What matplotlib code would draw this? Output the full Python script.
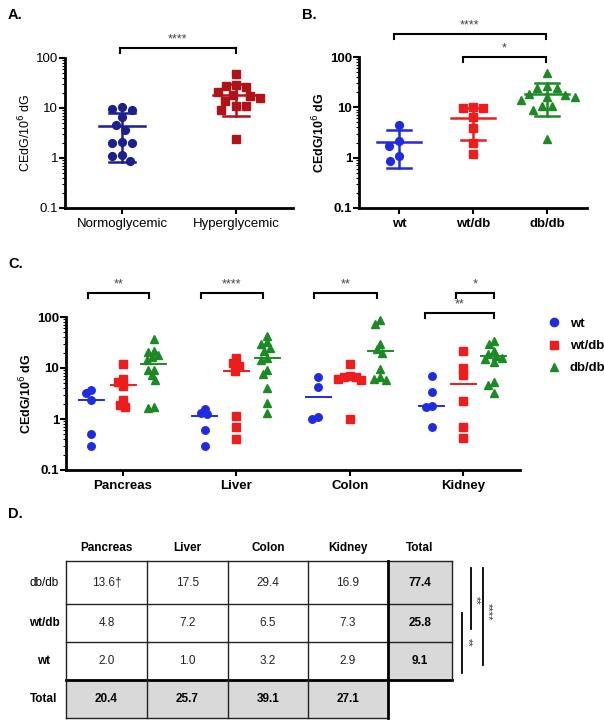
import numpy as np
import matplotlib
matplotlib.use("Agg")
import matplotlib.pyplot as plt
from matplotlib.transforms import blended_transform_factory
from matplotlib.ticker import LogLocator, FixedFormatter, FixedLocator

plt.rcParams['font.family'] = ['Liberation Sans', 'DejaVu Sans']

# ---------------- data ----------------
# Panel A
a_groups = ["Normoglycemic", "Hyperglycemic"]
a_normo = [9.3, 10.5, 9.5, 6.5, 3.7, 4.5, 2.0, 2.1, 2.0, 1.15, 1.1, 0.87]
a_hyper = [47, 28, 29, 26, 21, 18.6, 17, 15.5, 14, 11, 11, 9.1, 2.4]
a_mean = [4.4, 18.6]
a_upper = [8.0, 30.9]
a_lower = [0.82, 6.9]

# Panel B
b_groups = ["wt", "wt/db", "db/db"]
b_wt = [4.5, 2.1, 1.74, 1.1, 0.87]
b_wtdb = [9.5, 10.3, 9.6, 6.4, 3.9, 2.0, 1.19]
b_dbdb = [48, 27, 24, 24, 18, 17.5, 16, 16, 14, 10.7, 10.7, 8.7, 2.3]
b_mean = [2.03, 6.1, 18.3]
b_upper = [3.57, 9.9, 31.0]
b_lower = [0.635, 2.26, 6.8]

# Panel C
organs = ["Pancreas", "Liver", "Colon", "Kidney"]
genotypes = ["wt", "wt/db", "db/db"]
c_wt = [[3.7, 3.2, 2.4, 0.50, 0.30],
        [1.6, 1.25, 1.3, 0.6, 0.3],
        [6.7, 4.3, 1.1, 1.0],
        [6.9, 3.4, 1.8, 1.75, 0.70]]
c_wtdb = [[11.9, 6.2, 5.3, 4.5, 2.4, 1.9, 1.7],
          [16, 12.6, 10.9, 8.8, 1.16, 0.7, 0.4],
          [12.2, 7.0, 6.7, 6.6, 6.2, 5.8, 1.0],
          [22, 10.2, 7.2, 2.3, 0.70, 0.42]]
c_dbdb = [[37.7, 22, 20.6, 17.8, 16.5, 14.2, 9.3, 9.0, 7.2, 5.75, 1.66, 1.7],
          [42, 32, 29, 25, 22, 15.5, 14.5, 9, 7.5, 4, 2.1, 1.3],
          [86, 74, 30, 24, 20, 9.5, 6.7, 6.2, 5.9],
          [34, 29, 22, 19, 17, 16, 15, 13, 5.3, 4.6, 3.3]]
c_mean = [[2.4, 4.6, 11.9],
          [1.16, 8.8, 15.7],
          [2.7, 6.5, 21.6],
          [1.8, 4.8, 17.0]]

# Panel D
d_cols = ["Pancreas", "Liver", "Colon", "Kidney", "Total"]
d_rows = ["db/db", "wt/db", "wt"]
d_vals = [["13.6\u2020", "17.5", "29.4", "16.9"],
          ["4.8", "7.2", "6.5", "7.3"],
          ["2.0", "1.0", "3.2", "2.9"]]
d_row_tot = ["77.4", "25.8", "9.1"]
d_col_tot = ["20.4", "25.7", "39.1", "27.1"]

# ---------------- styles ----------------
W, H = 604, 726
NAVY = "#1b1f8f"
DRED = "#b01218"
BLUE = "#1f2be0"
RED = "#ee1c1c"
GREEN = "#1c8a24"

fig = plt.figure(figsize=(W / 100, H / 100), dpi=100)
over = fig.add_axes([0, 0, 1, 1], zorder=-1)
over.set_xlim(0, W)
over.set_ylim(H, 0)
over.axis("off")


def pax(l, t, r, b):
    return fig.add_axes([l / W, 1 - b / H, (r - l) / W, (b - t) / H])


def swarm(vals, diam_px, ppd, ppu):
    """Beeswarm offsets (data x units); y in px = log10(v)*ppd."""
    y = np.log10(np.asarray(vals, float)) * ppd
    order = np.argsort(-y)
    placed = []
    offs = np.zeros(len(y))
    cands = sorted(np.arange(-40, 40.01, 0.5), key=lambda c: (abs(c), c))
    for i in order:
        for c in cands:
            ok = True
            for (px, py) in placed:
                if (c - px) ** 2 + (y[i] - py) ** 2 < diam_px ** 2:
                    ok = False
                    break
            if ok:
                offs[i] = c
                placed.append((c, y[i]))
                break
    return offs / ppu


def style_log_axis(ax, bold, fs=9):
    ax.set_yscale("log")
    ax.set_ylim(0.1, 100)
    ax.yaxis.set_major_locator(FixedLocator([0.1, 1, 10, 100]))
    ax.yaxis.set_major_formatter(FixedFormatter(["0.1", "1", "10", "100"]))
    ax.yaxis.set_minor_locator(LogLocator(base=10, subs=np.arange(2, 10)))
    ax.yaxis.set_minor_formatter(FixedFormatter([]))
    for s in ["top", "right"]:
        ax.spines[s].set_visible(False)
    for s in ["left", "bottom"]:
        ax.spines[s].set_linewidth(2.0)
    ax.tick_params(axis="y", which="major", length=4, width=1.5, labelsize=fs, pad=1)
    ax.tick_params(axis="y", which="minor", length=2, width=0.8)
    ax.tick_params(axis="x", which="major", length=4, width=1.5, labelsize=fs, pad=3)
    for lab in ax.get_yticklabels() + ax.get_xticklabels():
        lab.set_fontweight("bold" if bold else "normal")
    ax.set_facecolor("none")


def bracket(ax, x0, x1, py, label, drop=5, star_dy=9, fs=9):
    tr = blended_transform_factory(ax.transData, over.transData)
    ax.plot([x0, x0, x1, x1], [py + drop, py, py, py + drop], color="black",
            lw=1.5, transform=tr, clip_on=False, solid_joinstyle="miter")
    ax.text((x0 + x1) / 2, py - star_dy, label, transform=tr, ha="center",
            va="center", fontsize=fs, color="#444444")


ylab = "CEdG/10$^{6}$ dG"

# ---------------- Panel A ----------------
axA = pax(65, 58, 293, 208)
style_log_axis(axA, bold=False, fs=9.5)
axA.set_xlim(-0.5, 1.5)
for i, (vals, col, mk) in enumerate([(a_normo, NAVY, "o"), (a_hyper, DRED, "s")]):
    xs = i + swarm(vals, 10.0, 50, 114)
    axA.plot(xs, vals, mk, color=col, ms=5.6, ls="none", zorder=3, clip_on=False)
    axA.plot([i - 0.2, i + 0.2], [a_mean[i]] * 2, color=col, lw=1.8)
    axA.plot([i, i], [a_lower[i], a_upper[i]], color=col, lw=1.8)
    for yv in (a_lower[i], a_upper[i]):
        axA.plot([i - 0.11, i + 0.11], [yv, yv], color=col, lw=1.8)
axA.set_xticks([0, 1])
axA.set_xticklabels(a_groups, fontsize=9.5)
axA.set_ylabel(ylab, fontsize=9, labelpad=2)
bracket(axA, -0.02, 1.0, 48, "****")

# ---------------- Panel B ----------------
axB = pax(359, 57, 587, 208)
style_log_axis(axB, bold=True, fs=9.5)
axB.set_xlim(-0.54, 2.54)
for i, (vals, col, mk) in enumerate([(b_wt, BLUE, "o"), (b_wtdb, RED, "s"), (b_dbdb, GREEN, "^")]):
    xs = i + swarm(vals, 10.0, 50, 74)
    axB.plot(xs, vals, mk, color=col, ms=5.6, ls="none", zorder=3, clip_on=False)
    axB.plot([i - 0.3, i + 0.3], [b_mean[i]] * 2, color=col, lw=1.8)
    axB.plot([i, i], [b_lower[i], b_upper[i]], color=col, lw=1.8)
    for yv in (b_lower[i], b_upper[i]):
        axB.plot([i - 0.16, i + 0.16], [yv, yv], color=col, lw=1.8)
axB.set_xticks([0, 1, 2])
axB.set_xticklabels(b_groups, fontsize=9.5, fontweight="bold")
axB.set_ylabel(ylab, fontsize=9, fontweight="bold", labelpad=2)
bracket(axB, -0.07, 1.98, 34, "****")
bracket(axB, 0.86, 1.98, 57, "*")

# ---------------- Panel C ----------------
axC = pax(66, 317, 520, 470)
style_log_axis(axC, bold=True, fs=9.5)
axC.set_xlim(-0.503, 3.5)
off = [-0.28, 0.0, 0.27]
cols = [BLUE, RED, GREEN]
mks = ["o", "s", "^"]
series = [c_wt, c_wtdb, c_dbdb]
for g in range(4):
    for k in range(3):
        vals = series[k][g]
        cx = g + off[k]
        xs = cx + swarm(vals, 6.0, 51, 113.3)
        axC.plot(xs, vals, mks[k], color=cols[k], ms=5.4, ls="none", zorder=3,
                 clip_on=False, label=genotypes[k] if g == 0 else None)
        axC.plot([cx - 0.11, cx + 0.11], [c_mean[g][k]] * 2, color=cols[k], lw=1.4, zorder=4)
axC.set_xticks(range(4))
axC.set_xticklabels(organs, fontsize=9.5, fontweight="bold")
axC.set_ylabel(ylab, fontsize=9, fontweight="bold", labelpad=2)
bracket(axC, -0.31, 0.23, 293, "**")
bracket(axC, 0.69, 1.23, 293, "****")
bracket(axC, 1.68, 2.24, 293, "**")
bracket(axC, 2.66, 3.27, 313, "**")
bracket(axC, 2.94, 3.27, 293, "*")
leg = fig.legend(loc="upper left", bbox_to_anchor=(534 / W, 1 - 306 / H), frameon=False,
                 prop={"weight": "bold", "size": 9.5}, handletextpad=0.6,
                 labelspacing=0.75, handlelength=1.2, markerscale=1.1)

# ---------------- Panel labels ----------------
for txt, x, y in [("A.", 8, 15), ("B.", 302, 15), ("C.", 8, 264), ("D.", 8, 514)]:
    over.text(x, y, txt, fontsize=10.5, fontweight="bold", ha="left", va="center")

# ---------------- Panel D (table) ----------------
xb = [66, 147, 228, 308, 388, 452]
yb = [561, 604, 642, 680, 718]
GRAY = "#d9d9d9"
for r in range(3):
    over.add_patch(plt.Rectangle((xb[4], yb[r]), xb[5] - xb[4], yb[r + 1] - yb[r],
                                 facecolor=GRAY, edgecolor="none"))
for c in range(4):
    over.add_patch(plt.Rectangle((xb[c], yb[3]), xb[c + 1] - xb[c], yb[4] - yb[3],
                                 facecolor=GRAY, edgecolor="none"))
lw_t = 1.0
for y in yb[:3]:
    over.plot([xb[0], xb[5]], [y, y], color="#222222", lw=lw_t)
over.plot([xb[0], xb[5]], [yb[3], yb[3]], color="black", lw=2.0)
over.plot([xb[0], xb[4]], [yb[4], yb[4]], color="#222222", lw=lw_t)
for x in xb[:4]:
    over.plot([x, x], [yb[0], yb[4]], color="#222222", lw=lw_t)
over.plot([xb[4], xb[4]], [yb[0], yb[4]], color="black", lw=2.0)
over.plot([xb[5], xb[5]], [yb[0], yb[3]], color="#222222", lw=lw_t)

for c, name in enumerate(d_cols):
    over.text((xb[c] + xb[c + 1]) / 2, 548, name, ha="center", va="center",
              fontsize=8.5, fontweight="bold")
for r, name in enumerate(d_rows):
    yc = (yb[r] + yb[r + 1]) / 2
    over.text(44, yc, name, ha="center", va="center", fontsize=8.5,
              fontweight="normal" if r == 0 else "bold")
    for c in range(4):
        over.text((xb[c] + xb[c + 1]) / 2, yc, d_vals[r][c], ha="center", va="center",
                  fontsize=8.5, color="#222222")
    over.text((xb[4] + xb[5]) / 2, yc, d_row_tot[r], ha="center", va="center",
              fontsize=8.5, fontweight="bold")
yc = (yb[3] + yb[4]) / 2
over.text(44, yc, "Total", ha="center", va="center", fontsize=8.5, fontweight="bold")
for c in range(4):
    over.text((xb[c] + xb[c + 1]) / 2, yc, d_col_tot[c], ha="center", va="center",
              fontsize=8.5, fontweight="bold")

for x, y0, y1, lab, tx, ty in [(462, 613, 673, "**", 468, 642),
                               (471, 568, 629, "**", 476, 600),
                               (483, 568, 665, "****", 488, 612)]:
    over.plot([x, x], [y0, y1], color="black", lw=1.3)
    over.text(tx, ty, lab, rotation=270, ha="center", va="center", fontsize=8,
              color="#333333")

fig.savefig("out.png", dpi=100)
